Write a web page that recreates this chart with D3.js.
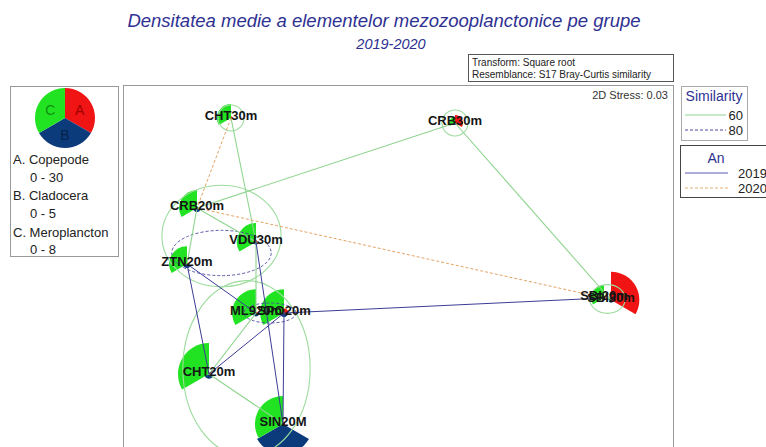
<!DOCTYPE html>
<html>
<head>
<meta charset="utf-8">
<script src="https://cdn.jsdelivr.net/npm/d3@7"></script>
<style>
  body { margin: 0; background: #fff; }
  svg { font-family: "Liberation Sans", Arial, sans-serif; }
</style>
</head>
<body>
<div id="chart"></div>
<script>
// nMDS ordination, segmented bubbles per station
var stations = ["CHT30m", "CRB30m", "CRB20m", "VDU30m", "ZTN20m", "ML920m", "SPO20m", "CHT20m", "SIN20M", "SBI20m", "SBI30m"]
var mdsX = [-0.595, 0.525, -0.765, -0.47, -0.815, -0.47, -0.33, -0.705, -0.335, 1.27, 1.305]
var mdsY = [0.66, 0.635, 0.21, 0.04, -0.07, -0.315, -0.315, -0.62, -0.87, -0.24, -0.25]

// densities for the three groups
var copepode = [1.5, 7, 1, 1.5, 1, 1, 4, 1.5, 2, 1.5, 25]
var cladocera = [0.2, 0.3, 0.6, 0.4, 0.6, 0.5, 0.6, 0.7, 4.4, 0.3, 0.4]
var meroplancton = [3.3, 1.4, 4.2, 4.5, 4.2, 5.6, 5.6, 7.3, 6.6, 3, 0.5]

var groupNames = ["A. Copepode", "B. Cladocera", "C. Meroplancton"]
var groupRanges = ["0 - 30", "0 - 5", "0 - 8"]
var groupMax = [30, 5, 8]

// similarity groups and year links
var clusters60 = [["CHT30m"], ["CRB30m"], ["SBI20m", "SBI30m"], ["CRB20m", "VDU30m", "ZTN20m"], ["ML920m", "SPO20m", "CHT20m", "SIN20M"]]
var clusters80 = [["VDU30m", "ZTN20m"], ["ML920m", "SPO20m"]]
var links60 = [["CHT30m", "VDU30m"], ["CRB20m", "CRB30m"], ["CRB30m", "SBI30m"], ["CRB20m", "ZTN20m"], ["CRB20m", "VDU30m"], ["VDU30m", "ML920m"], ["CHT20m", "ML920m"], ["CHT20m", "SIN20M"]]
var links2019 = [["ZTN20m", "ML920m"], ["ZTN20m", "CHT20m"], ["CHT20m", "SPO20m"], ["SPO20m", "SIN20M"], ["SPO20m", "SBI20m"], ["VDU30m", "SIN20M"]]
var links2020 = [["CHT30m", "CRB20m"], ["CRB20m", "SBI20m"]]

var simLevels = ["60", "80"]
var years = ["2019", "2020"]

var colA = "#f01414"
var colB = "#0c3b7c"
var colC = "#22e322"
var titleCol = "#2e3192"

var svg = d3.select("#chart")
  .append("svg")
  .attr("width", 766)
  .attr("height", 447)

// titles
svg.append("text")
  .attr("x", 384).attr("y", 27)
  .attr("text-anchor", "middle")
  .attr("font-size", 18.5).attr("font-style", "italic")
  .attr("fill", titleCol)
  .text("Densitatea medie a elementelor mezozooplanctonice pe grupe")

svg.append("text")
  .attr("x", 391).attr("y", 49)
  .attr("text-anchor", "middle")
  .attr("font-size", 14.5).attr("font-style", "italic")
  .attr("fill", titleCol)
  .text("2019-2020")

// transform box
svg.append("rect")
  .attr("x", 468.5).attr("y", 54.5).attr("width", 205).attr("height", 27)
  .attr("fill", "none").attr("stroke", "#555")
svg.append("text").attr("x", 472).attr("y", 66).attr("font-size", 10).attr("fill", "#222")
  .text("Transform: Square root")
svg.append("text").attr("x", 472).attr("y", 78).attr("font-size", 10).attr("fill", "#222")
  .text("Resemblance: S17 Bray-Curtis similarity")

// plot frame
svg.append("rect")
  .attr("x", 123.5).attr("y", 85.5).attr("width", 550).attr("height", 400)
  .attr("fill", "none").attr("stroke", "#999")

svg.append("text")
  .attr("x", 668).attr("y", 99)
  .attr("text-anchor", "end").attr("font-size", 11).attr("fill", "#333")
  .text("2D Stress: 0.03")

var xScale = d3.scaleLinear().domain([-1, 1]).range([150, 550])
var yScale = d3.scaleLinear().domain([-1, 1]).range([450, 50])
var rA = d3.scaleLinear().domain([0, groupMax[0]]).range([0, 34])
var rB = d3.scaleLinear().domain([0, groupMax[1]]).range([0, 34])
var rC = d3.scaleLinear().domain([0, groupMax[2]]).range([0, 34])

var points = stations.map(function(s, i) {
  return { name: s, x: xScale(mdsX[i]), y: yScale(mdsY[i]), a: copepode[i], b: cladocera[i], c: meroplancton[i] }
})
var byName = {}
points.forEach(function(p) { byName[p.name] = p })

var arc = d3.arc().innerRadius(0)
var third = 2 * Math.PI / 3

var plot = svg.append("g")

// segmented bubbles
var glyphs = plot.selectAll("g.glyph")
  .data(points)
  .enter()
  .append("g")
  .attr("transform", d => `translate(${d.x},${d.y})`)

glyphs.append("path").attr("fill", colA)
  .attr("d", d => arc({ outerRadius: rA(d.a), startAngle: 0, endAngle: third }))
glyphs.append("path").attr("fill", colB)
  .attr("d", d => arc({ outerRadius: rB(d.b), startAngle: third, endAngle: 2 * third }))
glyphs.append("path").attr("fill", colC)
  .attr("d", d => arc({ outerRadius: rC(d.c), startAngle: 2 * third, endAngle: 3 * third }))

// similarity contours as ellipses around group members
function ellipse(members, pad, k) {
  var xs = members.map(m => byName[m].x)
  var ys = members.map(m => byName[m].y)
  var x0 = d3.min(xs), x1 = d3.max(xs), y0 = d3.min(ys), y1 = d3.max(ys)
  return {
    cx: (x0 + x1) / 2, cy: (y0 + y1) / 2,
    rx: (x1 - x0) / 2 * k + pad, ry: (y1 - y0) / 2 * k + pad
  }
}

plot.selectAll("ellipse.s60")
  .data(clusters60.map(c => ellipse(c, 13, 1.35)))
  .enter()
  .append("ellipse")
  .attr("cx", d => d.cx).attr("cy", d => d.cy)
  .attr("rx", d => d.rx).attr("ry", d => d.ry)
  .attr("fill", "none").attr("stroke", "#9ddc9d").attr("stroke-width", 1.1)

plot.selectAll("ellipse.s80")
  .data(clusters80.map(c => ellipse(c, 10, 1.15)))
  .enter()
  .append("ellipse")
  .attr("cx", d => d.cx).attr("cy", d => d.cy)
  .attr("rx", d => d.rx).attr("ry", d => d.ry)
  .attr("fill", "none").attr("stroke", "#4a4a9e").attr("stroke-width", 0.9)
  .attr("stroke-dasharray", "3,2")

function drawLinks(links, color, dash, w) {
  plot.append("g")
    .selectAll("line")
    .data(links)
    .enter()
    .append("line")
    .attr("x1", d => byName[d[0]].x).attr("y1", d => byName[d[0]].y)
    .attr("x2", d => byName[d[1]].x).attr("y2", d => byName[d[1]].y)
    .attr("stroke", color).attr("stroke-width", w)
    .attr("stroke-dasharray", dash)
}

drawLinks(links60, "#8fd48f", null, 1.1)
drawLinks(links2020, "#e2a466", "3,2", 1)
drawLinks(links2019, "#3c3c96", null, 1)

// station labels
plot.selectAll("text.lab")
  .data(points)
  .enter()
  .append("text")
  .attr("x", d => d.x).attr("y", d => d.y + 1.5)
  .attr("text-anchor", "middle")
  .attr("font-size", 13).attr("font-weight", "bold")
  .attr("fill", "#151515")
  .text(d => d.name)

// bubble key
svg.append("rect")
  .attr("x", 10.5).attr("y", 86.5).attr("width", 108).attr("height", 170)
  .attr("fill", "none").attr("stroke", "#999")

var key = svg.append("g").attr("transform", "translate(65,118)")
var keyCols = [colA, colB, colC]
var keyText = ["#a00000", "#06224a", "#109010"]
var keyLetters = ["A", "B", "C"]
keyCols.forEach(function(c, i) {
  key.append("path").attr("fill", c)
    .attr("d", arc({ outerRadius: 30, startAngle: i * third, endAngle: (i + 1) * third }))
  var mid = (i + 0.5) * third
  key.append("text")
    .attr("x", Math.sin(mid) * 17).attr("y", -Math.cos(mid) * 17 + 5)
    .attr("text-anchor", "middle").attr("font-size", 14)
    .attr("fill", keyText[i])
    .text(keyLetters[i])
})

groupNames.forEach(function(g, i) {
  svg.append("text").attr("x", 13).attr("y", 164 + i * 36.3)
    .attr("font-size", 13).attr("fill", "#222").text(g)
  svg.append("text").attr("x", 30).attr("y", 181.5 + i * 36.3)
    .attr("font-size", 13).attr("fill", "#222").text(groupRanges[i])
})

// similarity legend
svg.append("rect")
  .attr("x", 681.5).attr("y", 86.5).attr("width", 66).attr("height", 54)
  .attr("fill", "none").attr("stroke", "#aaa")
svg.append("text").attr("x", 714).attr("y", 101)
  .attr("text-anchor", "middle").attr("font-size", 14).attr("fill", titleCol)
  .text("Similarity")
var simStyle = [{ c: "#8fd48f", d: null }, { c: "#4a4a9e", d: "3,2" }]
simLevels.forEach(function(s, i) {
  var y = 115 + i * 15
  svg.append("line").attr("x1", 685).attr("x2", 726).attr("y1", y).attr("y2", y)
    .attr("stroke", simStyle[i].c).attr("stroke-dasharray", simStyle[i].d)
  svg.append("text").attr("x", 743).attr("y", y + 4.5)
    .attr("text-anchor", "end").attr("font-size", 13).attr("fill", "#222").text(s)
})

// year legend
svg.append("rect")
  .attr("x", 680.5).attr("y", 145.5).attr("width", 100).attr("height", 52)
  .attr("fill", "none").attr("stroke", "#444")
svg.append("text").attr("x", 716).attr("y", 163)
  .attr("text-anchor", "middle").attr("font-size", 14).attr("fill", titleCol)
  .text("An")
var yearStyle = [{ c: "#5a5ab4", d: null }, { c: "#e2b070", d: "3,2" }]
years.forEach(function(s, i) {
  var y = 173 + i * 15
  svg.append("line").attr("x1", 685).attr("x2", 728).attr("y1", y).attr("y2", y)
    .attr("stroke", yearStyle[i].c).attr("stroke-dasharray", yearStyle[i].d)
  svg.append("text").attr("x", 738).attr("y", y + 4.5)
    .attr("font-size", 13).attr("fill", "#222").text(s)
})
</script>
</body>
</html>
